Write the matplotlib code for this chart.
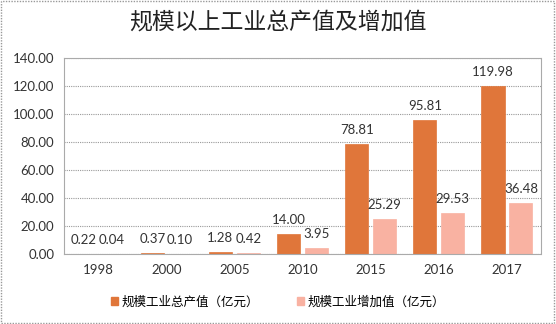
import matplotlib
matplotlib.use("Agg")
import matplotlib.pyplot as plt
import numpy as np
from matplotlib.patches import Rectangle

plt.rcParams['font.family'] = ['Noto Sans CJK SC', 'DejaVu Sans']

years = ["1998", "2000", "2005", "2010", "2015", "2016", "2017"]
output_value = [0.22, 0.37, 1.28, 14.00, 78.81, 95.81, 119.98]
added_value = [0.04, 0.10, 0.42, 3.95, 25.29, 29.53, 36.48]
series_names = ["规模工业总产值（亿元）", "规模工业增加值（亿元）"]
title = "规模以上工业总产值及增加值"

c1 = "#E0763A"
c2 = "#F9B2A2"
num_font = "Lato"

fig = plt.figure(figsize=(5.56, 3.24), dpi=100)
fig.patches.append(Rectangle((0.002, 0.003), 0.995, 0.994, transform=fig.transFigure,
                             fill=False, edgecolor="#999999", linewidth=1.0, linestyle=(0, (1, 1))))
ax = fig.add_axes([64/556, 1-254/324, (541-64)/556, (254-58)/324])

x = np.arange(len(years))
w = 0.34
gap = 0.07
b1 = ax.bar(x - w/2 - gap/2, output_value, w, color=c1, edgecolor=c1, linewidth=0.5)
b2 = ax.bar(x + w/2 + gap/2, added_value, w, color=c2, edgecolor=c2, linewidth=0.5)

for bars, vals in ((b1, output_value), (b2, added_value)):
    for b, v in zip(bars, vals):
        ax.annotate(f"{v:.2f}", (b.get_x() + b.get_width()/2, v), xytext=(0, 14),
                    textcoords="offset pixels", ha="center", va="center",
                    fontsize=9.5, color="#333333", family=num_font)

ax.set_ylim(0, 140)
ax.set_xlim(-0.5, len(years) - 0.5)
ax.set_yticks(np.arange(0, 141, 20))
ax.set_yticklabels([f"{v:.2f}" for v in np.arange(0, 141, 20)], fontsize=9.5, color="#333333",
                   family=num_font)
ax.set_xticks(x)
ax.set_xticklabels(years, fontsize=9.5, color="#333333", family=num_font)
ax.tick_params(axis="both", length=0, pad=7)
ax.yaxis.grid(True, color="#999999", linestyle=(0, (1, 1)), linewidth=0.8)
ax.set_axisbelow(True)
for s in ax.spines.values():
    s.set_color("#aaaaaa")
    s.set_linestyle((0, (1, 1)))
    s.set_linewidth(0.8)

fig.text(0.5, 1 - 22/324, title, ha="center", va="center", fontsize=16.5, color="#222222")

handles = [Rectangle((0, 0), 1, 1, color=c1), Rectangle((0, 0), 1, 1, color=c2)]
fig.legend(handles, series_names, loc="center", bbox_to_anchor=(0.5, 1 - 302/324), ncol=2,
           frameon=False, fontsize=9, handlelength=0.6, handleheight=0.6, handletextpad=0.3,
           columnspacing=3.0)

fig.savefig("out.png", dpi=100)
